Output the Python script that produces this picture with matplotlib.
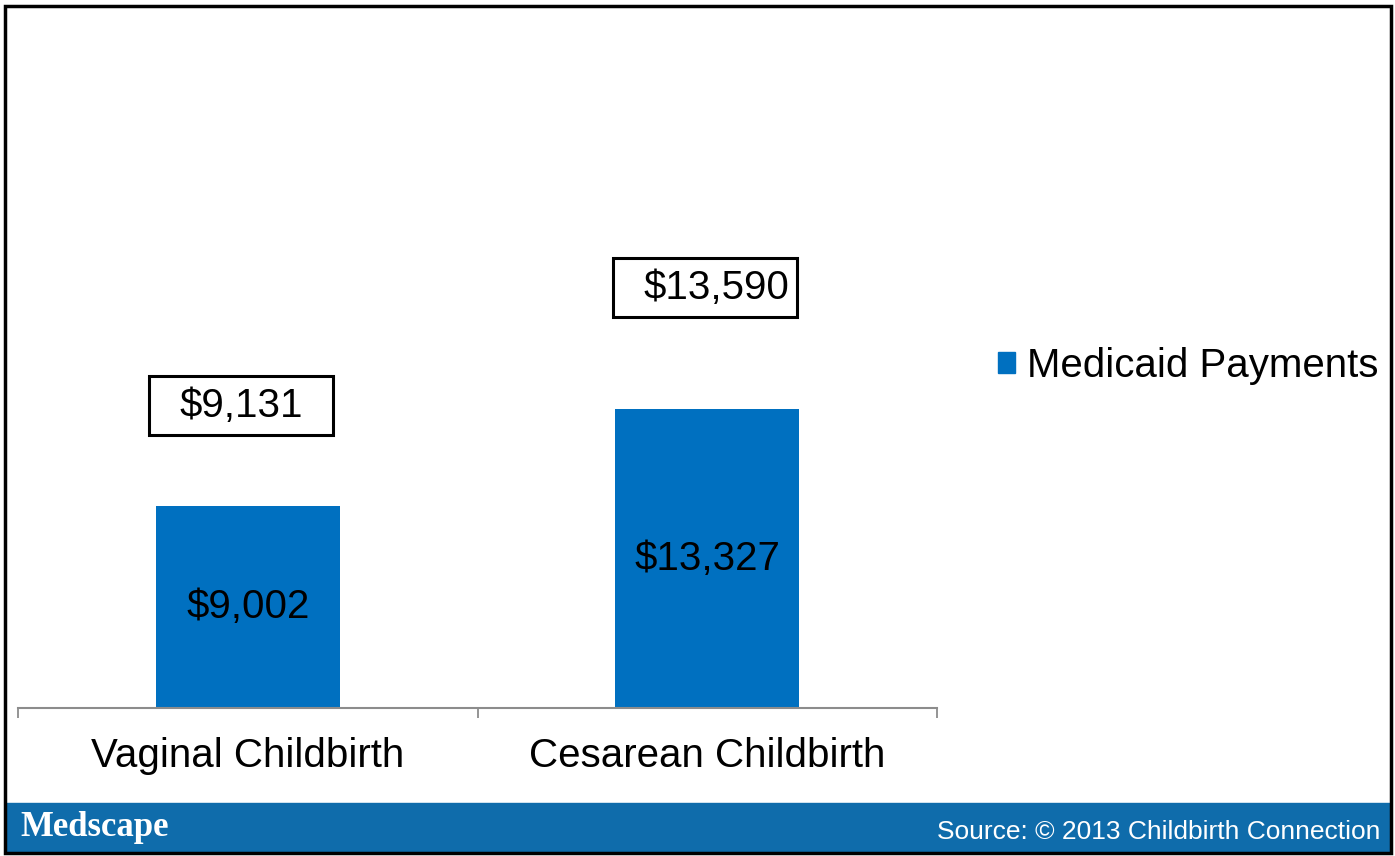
"""
Medicaid payments for vaginal vs. cesarean childbirth (Medscape slide).
"""

import matplotlib.pyplot as plt
from matplotlib.patches import Rectangle
from matplotlib.ticker import FixedLocator

plt.rcParams["font.family"] = ["Liberation Sans", "DejaVu Sans"]

categories = ["Vaginal Childbirth", "Cesarean Childbirth"]
payments = [9002, 13327]
boxed_values = [9131, 13590]
series_name = "Medicaid Payments"
source_text = "Source: \u00a9 2013 Childbirth Connection"

BAR_BLUE = "#0070c0"
FOOTER_BLUE = "#0f6cab"
AXIS_GRAY = "#8c8c8c"
FS = 29

W, H = 1395, 856
fig = plt.figure(figsize=(W / 100, H / 100), dpi=100)

# plot area: baseline at y=708 px, category band from x=18 to x=937 px
ax = fig.add_axes([18 / W, (H - 708) / H, (937 - 18) / W, (708 - 35) / H])
xs = range(len(categories))
ax.bar(xs, payments, width=0.4, color=BAR_BLUE)
ax.set_xlim(-0.5, 1.5)
ax.set_ylim(0, 30000)

for x, v in zip(xs, payments):
    ax.text(x, v / 2, f"${v:,}", ha="center", va="center", fontsize=FS)

# boxed callouts above each bar
box_lift = [4480, 5400]
box_shift = [-0.015, -0.005]
text_shift = [0.0, 0.026]
box_w, box_h = 0.4, 2630
for x, v, b, lift, dx, tx in zip(xs, payments, boxed_values, box_lift, box_shift, text_shift):
    cy = v + lift
    ax.add_patch(Rectangle((x + dx - box_w / 2, cy - box_h / 2), box_w, box_h,
                           fill=False, edgecolor="black", linewidth=2.2, zorder=3))
    ax.text(x + dx + tx, cy, f"${b:,}", ha="center", va="center", fontsize=FS, zorder=4)

for side in ["top", "right", "left"]:
    ax.spines[side].set_visible(False)
ax.spines["bottom"].set_color(AXIS_GRAY)
ax.spines["bottom"].set_linewidth(1.5)
ax.set_yticks([])
ax.set_xticks(list(xs))
ax.set_xticklabels(categories, fontsize=FS)
ax.tick_params(axis="x", which="major", length=0, pad=21)
ax.xaxis.set_minor_locator(FixedLocator([-0.5, 0.5, 1.5]))
ax.tick_params(axis="x", which="minor", length=7.5, width=1.3, color=AXIS_GRAY)

# legend
handle = Rectangle((0, 0), 1, 1, color=BAR_BLUE)
fig.legend([handle], [series_name], loc="center left",
           bbox_to_anchor=(998 / W, 1 - 366 / H), frameon=False, fontsize=FS,
           handlelength=0.42, handleheight=0.42, handletextpad=0.3,
           borderpad=0, borderaxespad=0)

# footer band
fig.add_artist(Rectangle((5 / W, (H - 852) / H), (1391 - 5) / W, (852 - 803) / H,
                         transform=fig.transFigure, color=FOOTER_BLUE, zorder=0))
fig.text(20 / W, 1 - 828 / H, "Medscape", color="white", fontsize=25,
         fontweight="bold", family=["Liberation Serif", "DejaVu Serif"],
         va="center", ha="left")
fig.text(1380 / W, 1 - 832 / H, source_text, color="white", fontsize=19,
         va="center", ha="right")

# outer frame
fig.add_artist(Rectangle((5 / W, 3 / H), (1391 - 5) / W, (848 - 1) / H,
                         transform=fig.transFigure, fill=False,
                         edgecolor="black", linewidth=2.5, zorder=10))

fig.savefig("out.png", dpi=100)
